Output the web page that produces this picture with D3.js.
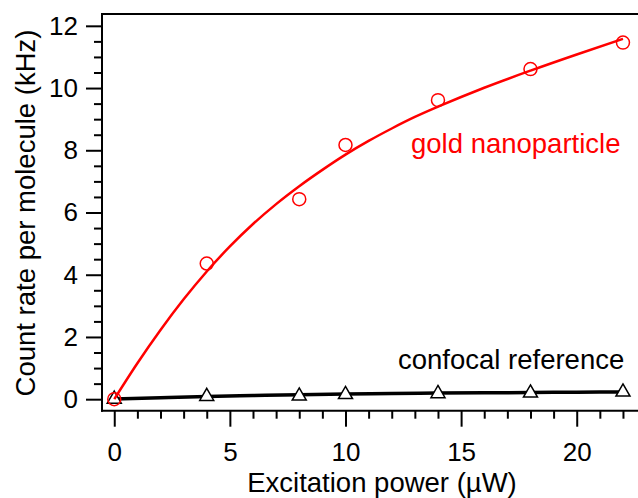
<!DOCTYPE html>
<html>
<head>
<meta charset="utf-8">
<script src="https://cdn.jsdelivr.net/npm/d3@7"></script>
<style>
  html, body { margin: 0; padding: 0; background: #fff; }
  svg { display: block; }
  text { font-family: "Liberation Sans", Arial, Helvetica, sans-serif; }
</style>
</head>
<body>
<svg id="chart" width="638" height="498"></svg>
<script>
// ---- data ----
const powerX = [0, 4, 8, 10, 14, 18, 22];
const goldValues = [0, 4.36, 6.43, 8.17, 9.61, 10.61, 11.46];
const confocalValues = [0, 0.09, 0.10, 0.15, 0.18, 0.20, 0.23];

const goldFitX = [0, 1, 2, 3, 4, 5, 6, 7, 8, 9, 10, 11, 12, 13, 14, 16, 18, 20, 22];
const goldFitY = [0, 1.155, 2.225, 3.21, 4.105, 4.91, 5.63, 6.27, 6.845, 7.37, 7.86, 8.30, 8.70, 9.07, 9.40, 10.01, 10.56, 11.08, 11.58];

const confFitX = [0, 2, 4, 6, 8, 10, 12, 14, 16, 18, 20, 22];
const confFitY = [0.01, 0.05, 0.09, 0.12, 0.145, 0.165, 0.18, 0.195, 0.205, 0.215, 0.225, 0.235];

const xMajorTicks = [0, 5, 10, 15, 20];
const xMinorTicks = [1, 2, 3, 4, 6, 7, 8, 9, 11, 12, 13, 14, 16, 17, 18, 19, 21, 22];
const yMajorTicks = [0, 2, 4, 6, 8, 10, 12];
const yMinorTicks = [0.5, 1, 1.5, 2.5, 3, 3.5, 4.5, 5, 5.5, 6.5, 7, 7.5, 8.5, 9, 9.5, 10.5, 11, 11.5];

const xTitle = "Excitation power (\u00B5W)";
const yTitle = "Count rate per molecule (kHz)";
const goldLabel = "gold nanoparticle";
const confLabel = "confocal reference";

// ---- layout ----
const svg = d3.select("#chart");
const mLeft = 102, mRight = 638, mTop = 14, mBottom = 410.7;

const x = d3.scaleLinear().domain([-0.53, 22.65]).range([mLeft, mRight]);
const y = d3.scaleLinear().domain([-0.37, 12.38]).range([mBottom, mTop]);

const tickFont = 26;
const titleFont = 27.5;
const fontFam = '"Liberation Sans", Arial, sans-serif';

// x axis
const gx = svg.append("g").attr("transform", `translate(0,${mBottom})`);
gx.call(d3.axisBottom(x).tickValues(xMajorTicks).tickSize(16).tickPadding(16).tickFormat(d3.format("d")));
gx.append("g").call(d3.axisBottom(x).tickValues(xMinorTicks).tickSize(8).tickFormat(""));
gx.selectAll(".domain").remove();
gx.selectAll("line").attr("stroke", "#000").attr("stroke-width", 2);
gx.selectAll("text").attr("fill", "#000").style("font-size", tickFont + "px").style("font-family", fontFam);

// y axis
const gy = svg.append("g").attr("transform", `translate(${mLeft},0)`);
gy.call(d3.axisLeft(y).tickValues(yMajorTicks).tickSize(16).tickPadding(8).tickFormat(d3.format("d")));
gy.append("g").call(d3.axisLeft(y).tickValues(yMinorTicks).tickSize(8).tickFormat(""));
gy.selectAll(".domain").remove();
gy.selectAll("line").attr("stroke", "#000").attr("stroke-width", 2);
gy.selectAll("text").attr("fill", "#000").style("font-size", tickFont + "px").style("font-family", fontFam);

// frame lines
svg.append("line").attr("x1", mLeft).attr("x2", mRight).attr("y1", mTop).attr("y2", mTop)
  .attr("stroke", "#000").attr("stroke-width", 2);
svg.append("line").attr("x1", mLeft).attr("x2", mLeft).attr("y1", mTop - 1).attr("y2", mBottom + 1)
  .attr("stroke", "#000").attr("stroke-width", 2);
svg.append("line").attr("x1", mLeft - 1).attr("x2", mRight).attr("y1", mBottom).attr("y2", mBottom)
  .attr("stroke", "#000").attr("stroke-width", 2);

// titles
svg.append("text").attr("x", 382).attr("y", 492)
  .attr("text-anchor", "middle").style("font-size", titleFont + "px").attr("fill", "#000").text(xTitle);
svg.append("text").attr("transform", "translate(35,213) rotate(-90)")
  .attr("text-anchor", "middle").style("font-size", titleFont + "px").attr("fill", "#000").text(yTitle);

// confocal fit line
const line = d3.line().x(d => x(d[0])).y(d => y(d[1])).curve(d3.curveMonotoneX);
svg.append("path").datum(d3.zip(confFitX, confFitY)).attr("d", line)
  .attr("fill", "none").attr("stroke", "#000").attr("stroke-width", 3.5);

// confocal markers
svg.append("g").selectAll("path").data(d3.zip(powerX, confocalValues)).join("path")
  .attr("transform", d => `translate(${x(d[0])},${y(d[1])})`)
  .attr("d", d3.symbol(d3.symbolTriangle, 85)())
  .attr("fill", "#fff").attr("stroke", "#000").attr("stroke-width", 1.5);

// gold fit curve
svg.append("path").datum(d3.zip(goldFitX, goldFitY)).attr("d", line)
  .attr("fill", "none").attr("stroke", "#ff0000").attr("stroke-width", 2.5);

// gold markers
svg.append("g").selectAll("circle").data(d3.zip(powerX, goldValues)).join("circle")
  .attr("cx", d => x(d[0])).attr("cy", d => y(d[1])).attr("r", 6.5)
  .attr("fill", "none").attr("stroke", "#ff0000").attr("stroke-width", 1.5);

// labels
svg.append("text").attr("x", 411).attr("y", 153).style("font-size", titleFont + "px").attr("fill", "#ff0000").text(goldLabel);
svg.append("text").attr("x", 398).attr("y", 369).style("font-size", titleFont + "px").attr("fill", "#000").text(confLabel);
</script>
</body>
</html>
